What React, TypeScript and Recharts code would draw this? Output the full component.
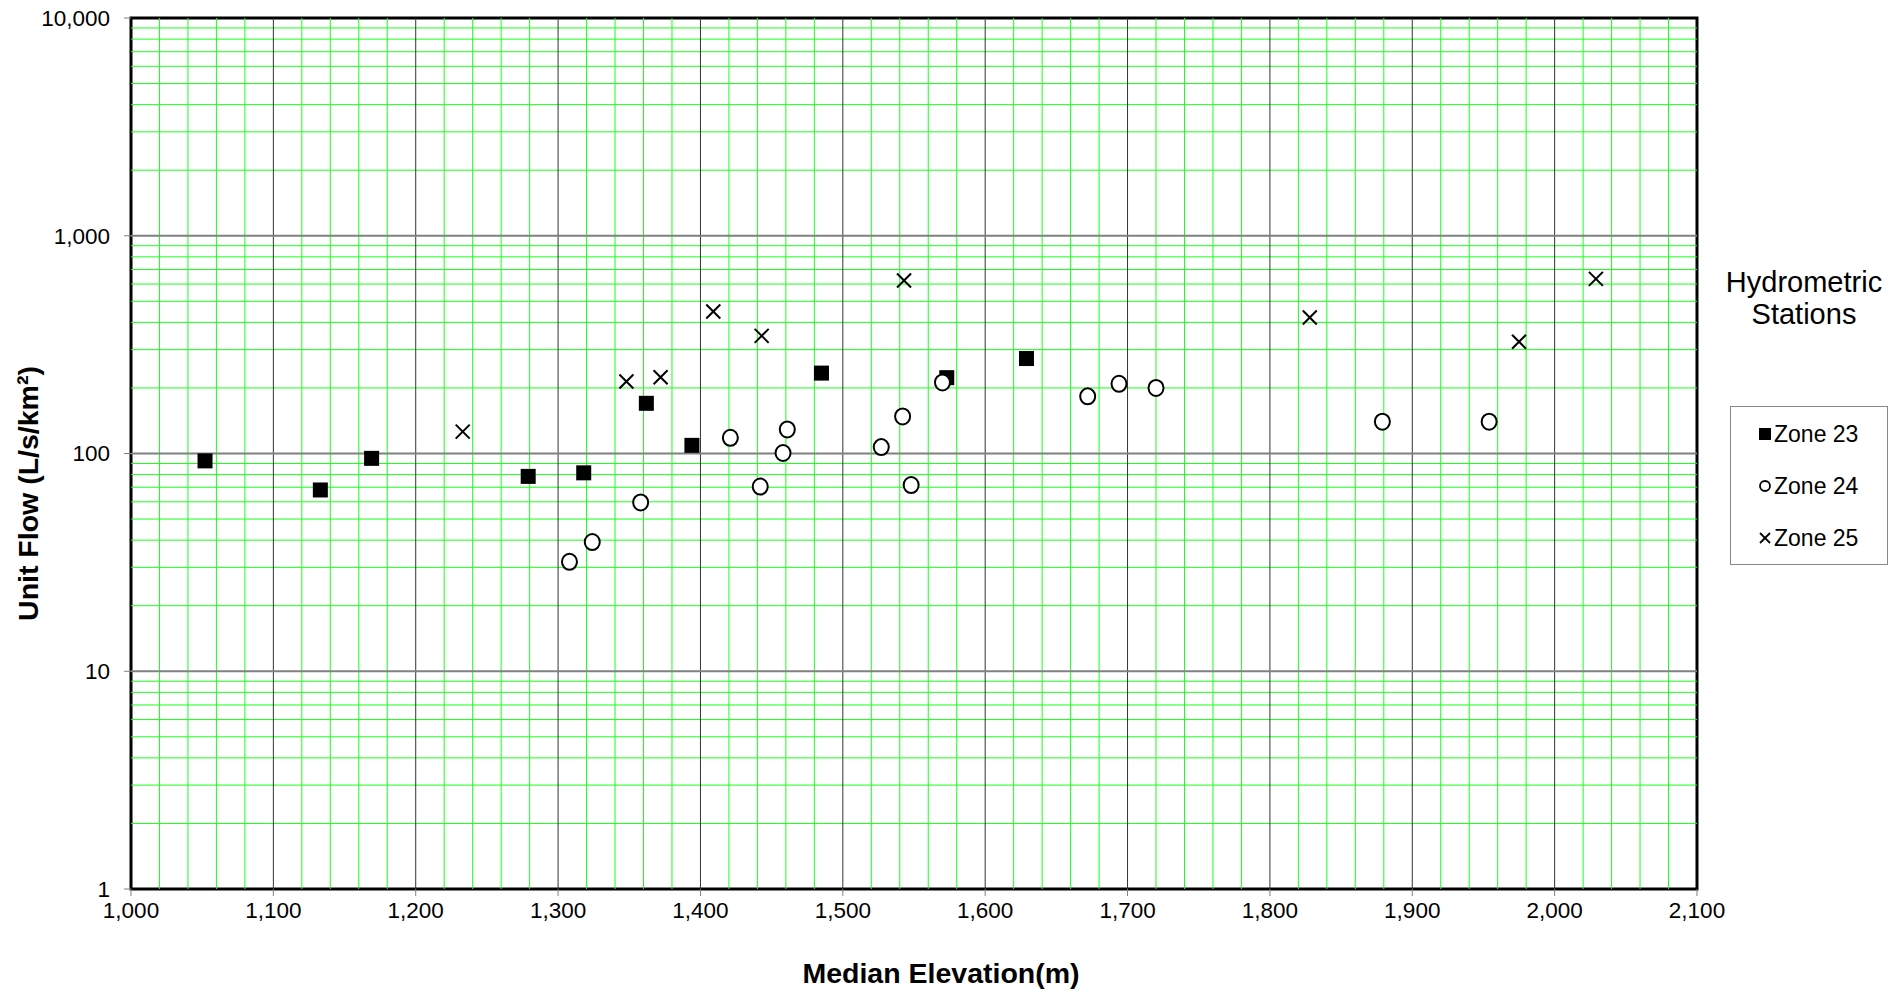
import { ScatterChart, Scatter, XAxis, YAxis, ReferenceLine, ReferenceArea } from 'recharts'

const zone23X = [1052, 1133, 1169, 1279, 1318, 1362, 1394, 1485, 1573, 1629]
const zone23Y = [92.5, 68, 95, 78.5, 81.5, 170, 109, 234, 223, 273]

const zone24X = [1308, 1324, 1358, 1421, 1442, 1458, 1461, 1527, 1542, 1548, 1570, 1672, 1694, 1720, 1879, 1954]
const zone24Y = [31.8, 39.2, 59.6, 118, 70.5, 100.5, 129, 107, 148, 71.6, 212, 183, 209, 200, 140, 140]

const zone25X = [1233, 1348, 1372, 1409, 1443, 1543, 1828, 1975, 2029]
const zone25Y = [126, 214, 224, 449, 347, 623, 421, 326, 634]

const xTicks = [1000, 1100, 1200, 1300, 1400, 1500, 1600, 1700, 1800, 1900, 2000, 2100]
const yTicks = [1, 10, 100, 1000, 10000]

const seriesNames = ['Zone 23', 'Zone 24', 'Zone 25']

// minor grid positions (every 20 m, and 2..9 in each decade)
const xMinor: number[] = []
for (let v = 1020; v < 2100; v += 20) if (v % 100 !== 0) xMinor.push(v)
const yMinor: number[] = []
for (const d of [1, 10, 100, 1000]) for (let k = 2; k <= 9; k++) yMinor.push(k * d)
const xMajor = xTicks.slice(1, -1)
const yMajor = yTicks.slice(1, -1)

const toPoints = (xs: number[], ys: number[]) => xs.map((x, i) => ({ x, y: ys[i] }))

const FONT = '"Liberation Sans", Arial, sans-serif'
const GREEN = '#1aff1a'

const Square = ({ cx, cy }: any) => <rect x={cx - 7.5} y={cy - 7.5} width={15} height={15} fill="#000" />
const Ring = ({ cx, cy }: any) => <ellipse cx={cx} cy={cy} rx={7.5} ry={8} fill="#fff" stroke="#000" strokeWidth={2} />
const Cross = ({ cx, cy }: any) => (
  <g stroke="#000" strokeWidth={2}>
    <line x1={cx - 7} y1={cy - 7} x2={cx + 7} y2={cy + 7} />
    <line x1={cx - 7} y1={cy + 7} x2={cx + 7} y2={cy - 7} />
  </g>
)

const XTitle = ({ viewBox }: any) => (
  <text x={viewBox.x + viewBox.width / 2 + 27} y={viewBox.y + 94} textAnchor="middle"
    fontFamily={FONT} fontWeight="bold" fontSize={28.5} fill="#000">Median Elevation(m)</text>
)

const YTitle = ({ viewBox }: any) => {
  const cx = viewBox.x + 20
  const cy = viewBox.y + viewBox.height / 2 + 40
  return (
    <text x={cx} y={cy} transform={`rotate(-90 ${cx} ${cy})`} textAnchor="middle" dominantBaseline="central"
      fontFamily={FONT} fontWeight="bold" fontSize={28.5} fill="#000">Unit Flow (L/s/km²)</text>
  )
}

const legendIcons = [
  <rect x={1} y={1} width={12} height={12} fill="#000" />,
  <circle cx={7} cy={7} r={5} fill="#fff" stroke="#000" strokeWidth={1.8} />,
  <g stroke="#000" strokeWidth={1.8}><line x1={2} y1={2} x2={12} y2={12} /><line x1={2} y1={12} x2={12} y2={2} /></g>,
]

export default function App() {
  return (
    <div style={{ position: 'relative', width: 1886, height: 989, marginTop: -8, fontFamily: FONT }}>
      <ScatterChart width={1886} height={989} margin={{ top: 18, right: 197, bottom: 1, left: 0 }} style={{ overflow: 'visible' }}>
        <XAxis
          dataKey="x"
          type="number"
          domain={[1000, 2100]}
          ticks={xTicks}
          interval={0}
          height={99}
          axisLine={false}
          tickSize={7}
          tickMargin={6}
          tickLine={{ stroke: '#808080' }}
          tick={{ fill: '#000', fontSize: 22.5, fontFamily: FONT }}
          tickFormatter={(v) => v.toLocaleString('en-US')}
          label={{ content: XTitle }}
        />
        <YAxis
          dataKey="y"
          type="number"
          scale="log"
          domain={[1, 10000]}
          allowDataOverflow
          ticks={yTicks}
          interval={0}
          width={123}
          axisLine={false}
          tickSize={7}
          tickMargin={14}
          tickLine={{ stroke: '#808080' }}
          tick={{ fill: '#000', fontSize: 22.5, fontFamily: FONT }}
          tickFormatter={(v) => v.toLocaleString('en-US')}
          label={{ content: YTitle }}
        />
        {xMinor.map((v) => <ReferenceLine key={'xm' + v} x={v} stroke={GREEN} strokeWidth={1} />)}
        {yMinor.map((v) => <ReferenceLine key={'ym' + v} y={v} stroke={GREEN} strokeWidth={1} />)}
        {xMajor.map((v) => <ReferenceLine key={'xM' + v} x={v} stroke="#333" strokeWidth={1} />)}
        {yMajor.map((v) => <ReferenceLine key={'yM' + v} y={v} stroke="#808080" strokeWidth={2} />)}
        <ReferenceArea x1={1000} x2={2100} y1={1} y2={10000} fill="none" stroke="#000" strokeWidth={3} />
        <Scatter name={seriesNames[0]} data={toPoints(zone23X, zone23Y)} shape={Square} isAnimationActive={false} />
        <Scatter name={seriesNames[1]} data={toPoints(zone24X, zone24Y)} shape={Ring} isAnimationActive={false} />
        <Scatter name={seriesNames[2]} data={toPoints(zone25X, zone25Y)} shape={Cross} isAnimationActive={false} />
      </ScatterChart>

      <div style={{ position: 'absolute', left: 1696, top: 266, width: 200, textAlign: 'center', fontSize: 29, lineHeight: '32px', color: '#000' }}>
        Hydrometric<br />Stations
      </div>
      <div style={{ position: 'absolute', left: 1722, top: 406, width: 156, height: 156, border: '1px solid #888', background: '#fff', paddingTop: 1 }}>
        {seriesNames.map((name, i) => (
          <div key={name} style={{ height: 52, display: 'flex', alignItems: 'center', fontSize: 23, color: '#000' }}>
            <svg width={14} height={14} style={{ marginLeft: 27, marginRight: 2 }}>{legendIcons[i]}</svg>
            <span>{name}</span>
          </div>
        ))}
      </div>
    </div>
  )
}
